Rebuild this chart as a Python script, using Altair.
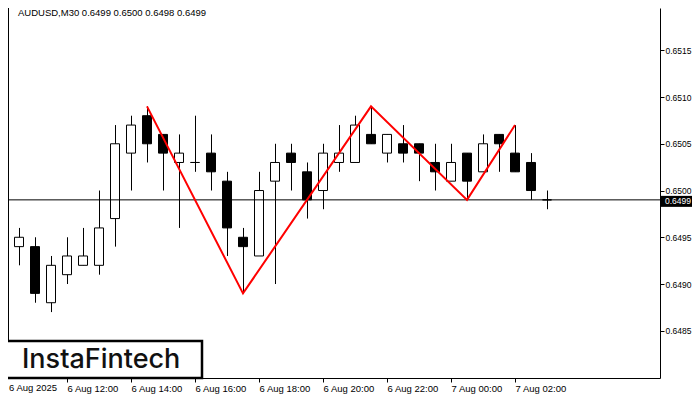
import altair as alt
import pandas as pd

# ---- data (AUDUSD M30, candle index 0 = 6 Aug 10:00) ----
opens  = [0.6490, 0.6494, 0.6494, 0.6488, 0.6491, 0.6492, 0.6492, 0.6497, 0.6504, 0.6508,
          0.6506, 0.6503, 0.6503, 0.6504, 0.6501, 0.6495, 0.6493, 0.6501, 0.6504, 0.6502,
          0.6500, 0.6503, 0.6503, 0.6506, 0.6504, 0.6505, 0.6505, 0.6503, 0.6501, 0.6504,
          0.6502, 0.6506, 0.6504, 0.6503, 0.6499]
highs  = [0.6495, 0.6496, 0.6495, 0.6493, 0.6495, 0.6496, 0.6500, 0.6507, 0.6508, 0.6509,
          0.6506, 0.6506, 0.6508, 0.6506, 0.6502, 0.6496, 0.6502, 0.6505, 0.6505, 0.6503,
          0.6505, 0.6507, 0.6508, 0.6509, 0.6506, 0.6507, 0.6505, 0.6505, 0.6505, 0.6504,
          0.6506, 0.6506, 0.6507, 0.6504, 0.6500]
lows   = [0.6487, 0.6492, 0.6488, 0.6487, 0.6490, 0.6492, 0.6491, 0.6494, 0.6500, 0.6503,
          0.6500, 0.6496, 0.6502, 0.6500, 0.6493, 0.6489, 0.6493, 0.6490, 0.6500, 0.6497,
          0.6498, 0.6502, 0.6503, 0.6505, 0.6503, 0.6503, 0.6501, 0.6500, 0.6501, 0.6499,
          0.6502, 0.6502, 0.6502, 0.6499, 0.6498]
closes = [0.6495, 0.6495, 0.6489, 0.6492, 0.6493, 0.6493, 0.6496, 0.6505, 0.6507, 0.6505,
          0.6504, 0.6504, 0.6503, 0.6502, 0.6496, 0.6494, 0.6500, 0.6503, 0.6503, 0.6499,
          0.6504, 0.6504, 0.6507, 0.6505, 0.6506, 0.6504, 0.6504, 0.6502, 0.6503, 0.6501,
          0.6505, 0.6505, 0.6502, 0.6500, 0.6499]

# pattern line (double top): candle index and price
pattern_idx   = [9, 15, 23, 29, 32]
pattern_price = [0.6509, 0.6489, 0.6509, 0.6499, 0.6507]

current_price = 0.6499
current_label = "0.6499"

tick_idx    = [0, 4, 8, 12, 16, 20, 24, 28, 32]
tick_labels = ["6 Aug 2025", "6 Aug 12:00", "6 Aug 14:00", "6 Aug 16:00", "6 Aug 18:00",
               "6 Aug 20:00", "6 Aug 22:00", "7 Aug 00:00", "7 Aug 02:00"]
price_ticks = [0.6485, 0.6490, 0.6495, 0.6500, 0.6505, 0.6510, 0.6515]

title_text = "AUDUSD,M30  0.6499 0.6500 0.6498 0.6499"
logo_text = "InstaFintech"

# ---- tables ----
df = pd.DataFrame({"i": list(range(len(opens))), "open": opens, "high": highs,
                   "low": lows, "close": closes})
df["dir"] = ["up" if c >= o else "down" for o, c in zip(opens, closes)]
pat = pd.DataFrame({"i": pattern_idx, "price": pattern_price})
cur = pd.DataFrame({"price": [current_price], "label": [current_label]})
first_lab = pd.DataFrame({"i": [tick_idx[0]], "label": [tick_labels[0]]})

W, H = 652, 370
FONT = "Liberation Sans"

xscale = alt.Scale(domain=[0.3125, 41.0625], nice=False, zero=False, padding=0)
yscale = alt.Scale(domain=[0.647995, 0.651952], nice=False, zero=False, padding=0)

label_expr = "[" + ",".join("'" + s + "'" for s in tick_labels) + "][datum.value/4]"

x_axis = alt.Axis(orient="bottom", values=tick_idx[1:], labelExpr=label_expr,
                  tickSize=4, labelAlign="left", labelBaseline="top", labelPadding=1,
                  labelFont=FONT, labelFontSize=9.5, labelColor="black",
                  domainColor="black", tickColor="black", grid=False, title=None,
                  labelOverlap=False, labelFlush=False)
y_axis = alt.Axis(orient="right", values=price_ticks, format=".4f", tickSize=4,
                  labelPadding=1, labelFont=FONT, labelFontSize=8.5, labelColor="black",
                  domainColor="black", tickColor="black", grid=False, title=None,
                  labelOverlap=False, labelFlush=False)

base = alt.Chart(df)

wicks = base.mark_rule(color="black", strokeWidth=1, xOffset=0.5).encode(
    x=alt.X("i:Q", scale=xscale, axis=x_axis),
    y=alt.Y("low:Q", scale=yscale, axis=y_axis),
    y2="high:Q",
)

bodies = base.mark_bar(size=9, stroke="black", strokeWidth=1).encode(
    x=alt.X("i:Q", scale=xscale),
    y=alt.Y("open:Q", scale=yscale),
    y2="close:Q",
    fill=alt.Fill("dir:N", scale=alt.Scale(domain=["up", "down"], range=["white", "black"]),
                  legend=None),
)

cur_rule = alt.Chart(cur).mark_rule(color="black", strokeWidth=1).encode(
    y=alt.Y("price:Q", scale=yscale),
)

pattern = alt.Chart(pat).mark_line(color="#ff0000", strokeWidth=2).encode(
    x=alt.X("i:Q", scale=xscale),
    y=alt.Y("price:Q", scale=yscale),
)

cur_box = alt.Chart(cur).mark_rect(color="black", yOffset=-4, y2Offset=7, clip=False).encode(
    x=alt.value(W), x2=alt.value(W + 32),
    y=alt.Y("price:Q", scale=yscale), y2="price:Q",
)
cur_text = alt.Chart(cur).mark_text(color="white", align="left", baseline="middle",
                                    font=FONT, fontSize=8.5, dy=1.5, clip=False).encode(
    x=alt.value(W + 5), y=alt.Y("price:Q", scale=yscale), text="label:N",
)

left_border = alt.Chart(cur).mark_rule(color="black", strokeWidth=1).encode(
    x=alt.value(0.5), y=alt.value(0), y2=alt.value(H),
)

first_label = alt.Chart(first_lab).mark_text(align="left", baseline="top", font=FONT,
                                             fontSize=9.5, color="black", dx=6,
                                             clip=False).encode(
    x=alt.X("i:Q", scale=xscale), y=alt.value(H + 5), text="label:N",
)

title = alt.Chart(cur).mark_text(align="left", baseline="middle", font=FONT, fontSize=9.5,
                                 color="black").encode(
    x=alt.value(10), y=alt.value(4.5), text=alt.value(title_text),
)

logo_box = alt.Chart(cur).mark_rect(fill="white", stroke="black", strokeWidth=2.5).encode(
    x=alt.value(-6), x2=alt.value(194), y=alt.value(333), y2=alt.value(H),
)
logo = alt.Chart(cur).mark_text(align="left", baseline="alphabetic", font="Inter",
                                fontSize=27, fontWeight=500, color="#111111").encode(
    x=alt.value(14), y=alt.value(360), text=alt.value(logo_text),
)

chart = alt.layer(
    wicks, bodies, cur_rule, pattern, cur_box, cur_text, left_border,
    first_label, title, logo_box, logo,
).properties(
    width=W, height=H,
    background="white",
    autosize=alt.AutoSizeParams(type="none"),
    padding={"left": 0, "top": 0, "right": 32, "bottom": 22},
).configure_view(stroke=None)

chart.save("out.html", embed_options={"renderer": "svg", "actions": False})
